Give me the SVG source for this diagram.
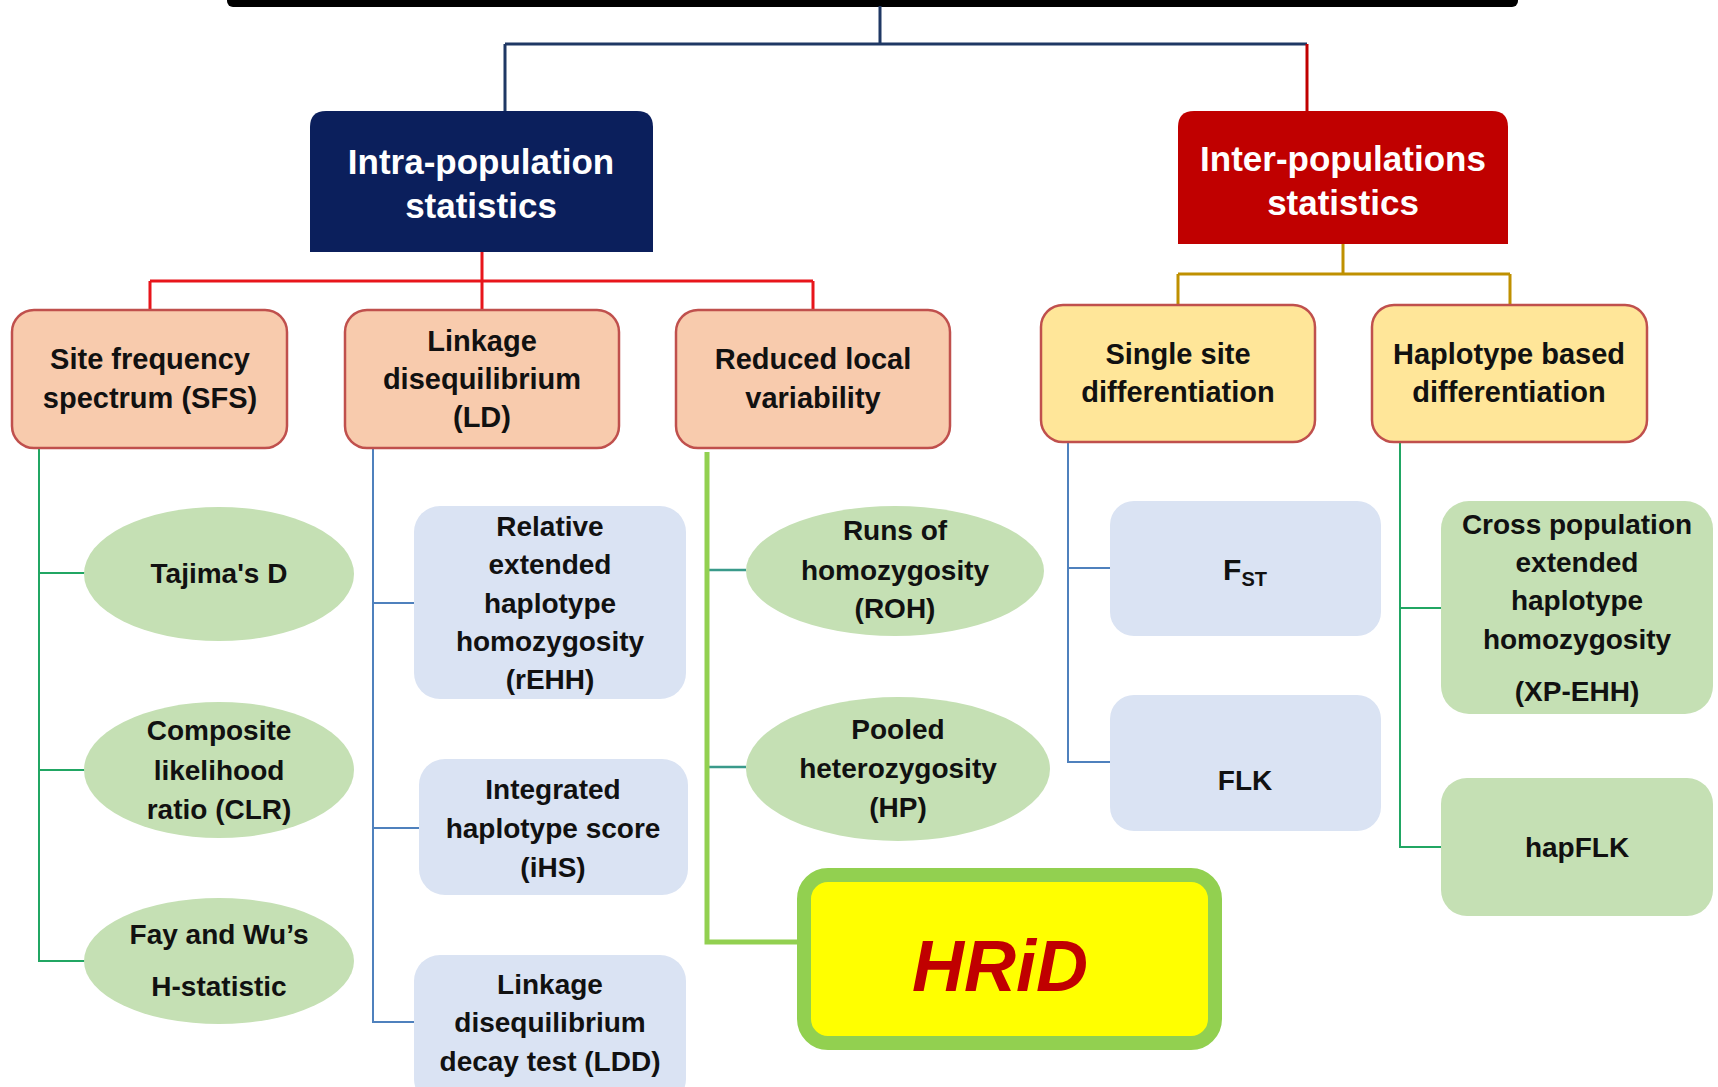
<svg xmlns="http://www.w3.org/2000/svg" width="1718" height="1087" viewBox="0 0 1718 1087">
<style>
text{font-family:"Liberation Sans",Arial,sans-serif;font-weight:bold;text-anchor:middle;fill:#111}
.hd{font-size:35px;fill:#fff}
.l2{font-size:29px}
.l3{font-size:28px}
.salmon{fill:#f8cbad;stroke:#c0504d;stroke-width:2.5}
.yel{fill:#ffe699;stroke:#c0504d;stroke-width:2.5}
.ell{fill:#c5e0b4}
.blu{fill:#dae3f3}
.grn{fill:#c5e0b4}
.c{fill:none}
</style>
<rect width="1718" height="1087" fill="#fff"/>
<rect x="227" y="-10" width="1291" height="17" rx="6" fill="#000"/>
<g id="connectors" class="c">
  <path d="M880,6 V44 M505,44 H1307 M505,44 V111" stroke="#1f3864" stroke-width="3"/>
  <path d="M1307,44 V111" stroke="#c00000" stroke-width="3"/>
  <path d="M482,252 V281 M150,281 H813 M150,281 V310 M482,281 V310 M813,281 V310" stroke="#e8151b" stroke-width="3"/>
  <path d="M1343,244 V274 M1178,274 H1510 M1178,274 V305 M1510,274 V305" stroke="#bf9000" stroke-width="3"/>
  <path d="M39,448 V961 H85 M39,573 H85 M39,770 H85" stroke="#21a663" stroke-width="2"/>
  <path d="M373,448 V1022 H414 M373,603 H414 M373,828 H419" stroke="#4f81bd" stroke-width="2"/>
  <path d="M709,570 H746 M709,767 H746" stroke="#3a9a8a" stroke-width="2.5"/>
  <path d="M707,452 V942 H797" stroke="#92d050" stroke-width="5"/>
  <path d="M1068,442 V762 H1110 M1068,568 H1110" stroke="#4f81bd" stroke-width="2"/>
  <path d="M1400,442 V847 H1441 M1400,608 H1441" stroke="#21a663" stroke-width="2"/>
</g>
<g id="intra">
  <path d="M310,252 V127 Q310,111 326,111 H637 Q653,111 653,127 V252 Z" fill="#0b1f5c"/>
  <text class="hd" x="481" y="174">Intra-population</text>
  <text class="hd" x="481" y="218">statistics</text>
</g>
<g id="inter">
  <path d="M1178,244 V127 Q1178,111 1194,111 H1492 Q1508,111 1508,127 V244 Z" fill="#c00000"/>
  <text class="hd" x="1343" y="171">Inter-populations</text>
  <text class="hd" x="1343" y="215">statistics</text>
</g>
<g id="sfs">
  <rect class="salmon" x="12" y="310" width="275" height="138" rx="22"/>
  <text class="l2" x="150" y="369">Site frequency</text>
  <text class="l2" x="150" y="408">spectrum (SFS)</text>
</g>
<g id="ld">
  <rect class="salmon" x="345" y="310" width="274" height="138" rx="22"/>
  <text class="l2" x="482" y="351">Linkage</text>
  <text class="l2" x="482" y="389">disequilibrium</text>
  <text class="l2" x="482" y="427">(LD)</text>
</g>
<g id="reduced">
  <rect class="salmon" x="676" y="310" width="274" height="138" rx="22"/>
  <text class="l2" x="813" y="369">Reduced local</text>
  <text class="l2" x="813" y="408">variability</text>
</g>
<g id="single">
  <rect class="yel" x="1041" y="305" width="274" height="137" rx="22"/>
  <text class="l2" x="1178" y="364">Single site</text>
  <text class="l2" x="1178" y="402">differentiation</text>
</g>
<g id="haplo">
  <rect class="yel" x="1372" y="305" width="275" height="137" rx="22"/>
  <text class="l2" x="1509" y="364">Haplotype based</text>
  <text class="l2" x="1509" y="402">differentiation</text>
</g>
<g id="tajima">
  <ellipse class="ell" cx="219" cy="574" rx="135" ry="67"/>
  <text class="l3" x="219" y="583">Tajima's D</text>
</g>
<g id="clr">
  <ellipse class="ell" cx="219" cy="770" rx="135" ry="68"/>
  <text class="l3" x="219" y="740">Composite</text>
  <text class="l3" x="219" y="780">likelihood</text>
  <text class="l3" x="219" y="819">ratio (CLR)</text>
</g>
<g id="faywu">
  <ellipse class="ell" cx="219" cy="961" rx="135" ry="63"/>
  <text class="l3" x="219" y="944">Fay and Wu’s</text>
  <text class="l3" x="219" y="996">H-statistic</text>
</g>
<g id="rehh">
  <rect class="blu" x="414" y="506" width="272" height="193" rx="26"/>
  <text class="l3" x="550" y="536">Relative</text>
  <text class="l3" x="550" y="574">extended</text>
  <text class="l3" x="550" y="613">haplotype</text>
  <text class="l3" x="550" y="651">homozygosity</text>
  <text class="l3" x="550" y="689">(rEHH)</text>
</g>
<g id="ihs">
  <rect class="blu" x="419" y="759" width="269" height="136" rx="26"/>
  <text class="l3" x="553" y="799">Integrated</text>
  <text class="l3" x="553" y="838">haplotype score</text>
  <text class="l3" x="553" y="877">(iHS)</text>
</g>
<g id="ldd">
  <rect class="blu" x="414" y="955" width="272" height="150" rx="26"/>
  <text class="l3" x="550" y="994">Linkage</text>
  <text class="l3" x="550" y="1032">disequilibrium</text>
  <text class="l3" x="550" y="1071">decay test (LDD)</text>
</g>
<g id="roh">
  <ellipse class="ell" cx="895" cy="571" rx="149" ry="65"/>
  <text class="l3" x="895" y="540">Runs of</text>
  <text class="l3" x="895" y="580">homozygosity</text>
  <text class="l3" x="895" y="618">(ROH)</text>
</g>
<g id="hp">
  <ellipse class="ell" cx="898" cy="769" rx="152" ry="72"/>
  <text class="l3" x="898" y="739">Pooled</text>
  <text class="l3" x="898" y="778">heterozygosity</text>
  <text class="l3" x="898" y="817">(HP)</text>
</g>
<g id="hrid">
  <rect x="804" y="875" width="411" height="168" rx="24" fill="#ffff00" stroke="#92d050" stroke-width="14"/>
  <text x="1000" y="991" style="font-size:72px;font-style:italic;fill:#c00000">HRiD</text>
</g>
<g id="fst">
  <rect class="blu" x="1110" y="501" width="271" height="135" rx="24"/>
  <text class="l3" x="1245" y="580" style="font-size:30px">F<tspan style="font-size:20px" dy="6">ST</tspan></text>
</g>
<g id="flk">
  <rect class="blu" x="1110" y="695" width="271" height="136" rx="24"/>
  <text class="l3" x="1245" y="790">FLK</text>
</g>
<g id="xpehh">
  <rect class="grn" x="1441" y="501" width="272" height="213" rx="28"/>
  <text class="l3" x="1577" y="534">Cross population</text>
  <text class="l3" x="1577" y="572">extended</text>
  <text class="l3" x="1577" y="610">haplotype</text>
  <text class="l3" x="1577" y="649">homozygosity</text>
  <text class="l3" x="1577" y="701">(XP-EHH)</text>
</g>
<g id="hapflk">
  <rect class="grn" x="1441" y="778" width="272" height="138" rx="26"/>
  <text class="l3" x="1577" y="857">hapFLK</text>
</g>
</svg>
